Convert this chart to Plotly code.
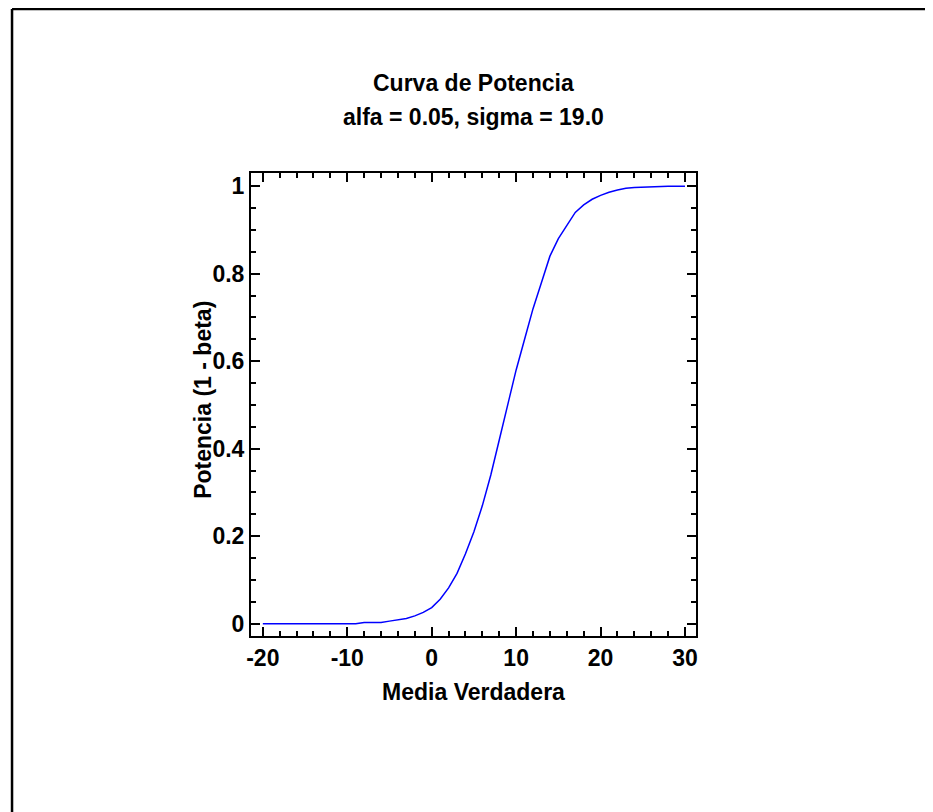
import plotly.graph_objects as go

# Curva de potencia: media verdadera vs potencia (1 - beta)
media = list(range(-20, 31))
potencia = [
    0, 0, 0, 0, 0, 0, 0, 0, 0, 0, 0, 0,           # -20 .. -9
    0.003, 0.003, 0.003, 0.006, 0.009, 0.012,       # -8 .. -3
    0.018, 0.026, 0.037, 0.056, 0.082, 0.115,       # -2 .. 3
    0.16, 0.21, 0.27, 0.34, 0.42, 0.50,             # 4 .. 9
    0.58, 0.65, 0.72, 0.78, 0.84, 0.88,             # 10 .. 15
    0.91, 0.94, 0.957, 0.97, 0.979, 0.986,          # 16 .. 21
    0.991, 0.995, 0.997, 0.998, 0.998, 1.0,         # 22 .. 27
    1.0, 1.0, 1.0,                                  # 28 .. 30
]

x_ticks = [-20, -10, 0, 10, 20, 30]
x_labels = ["-20", "-10", "0", "10", "20", "30"]
y_ticks = [0, 0.2, 0.4, 0.6, 0.8, 1]
y_labels = ["0", "0.2", "0.4", "0.6", "0.8", "1"]

titulo = "Curva de Potencia"
subtitulo = "alfa = 0.05, sigma = 19.0"
titulo_x = "Media Verdadera"
titulo_y = "Potencia (1 - beta)"

font = dict(family="Liberation Sans, Arial", size=23, color="black")

fig = go.Figure()
fig.add_trace(go.Scatter(x=media, y=potencia, mode="lines",
                         line=dict(color="#0000ff", width=1.5),
                         showlegend=False))

axis_common = dict(
    showline=True, linecolor="black", linewidth=2, mirror="ticks",
    ticks="inside", ticklen=9, tickwidth=2, tickcolor="black",
    showgrid=False, zeroline=False,
    tickfont=dict(family="Liberation Sans, Arial", size=23, color="black", weight="bold"),
)

fig.update_layout(
    width=933, height=812,
    margin=dict(l=243, r=245, t=165, b=184),
    paper_bgcolor="white", plot_bgcolor="white",
    font=font,
    xaxis=dict(range=[-21.4, 31.3], tickvals=x_ticks, ticktext=x_labels,
               minor=dict(ticks="inside", dtick=2, tick0=0, ticklen=5, tickcolor="black", tickwidth=2),
               title=dict(text=f"<b>{titulo_x}</b>", font=dict(size=23), standoff=14),
               **axis_common),
    yaxis=dict(range=[-0.028, 1.03], tickvals=y_ticks, ticktext=y_labels,
               minor=dict(ticks="inside", dtick=0.05, tick0=0, ticklen=5, tickcolor="black", tickwidth=2),
               **axis_common),
    annotations=[
        dict(text=f"<b>{titulo}</b>", x=0.5, y=1.194, xref="paper", yref="paper",
             showarrow=False, font=dict(size=23), xanchor="center", yanchor="middle"),
        dict(text=f"<b>{subtitulo}</b>", x=0.5, y=1.121, xref="paper", yref="paper",
             showarrow=False, font=dict(size=23), xanchor="center", yanchor="middle"),
        dict(text=f"<b>{titulo_y}</b>", x=-0.108, y=0.51, xref="paper", yref="paper",
             showarrow=False, font=dict(size=23), textangle=-90,
             xanchor="center", yanchor="middle"),
    ],
    shapes=[
        # marco exterior (solo bordes superior e izquierdo visibles)
        dict(type="line", xref="paper", yref="paper", x0=-0.537, x1=-0.537, y0=-0.5, y1=1.354,
             line=dict(color="black", width=2.5)),
        dict(type="line", xref="paper", yref="paper", x0=-0.537, x1=2.0, y0=1.354, y1=1.354,
             line=dict(color="black", width=2.5)),
    ],
)

fig.write_html("out.html")
